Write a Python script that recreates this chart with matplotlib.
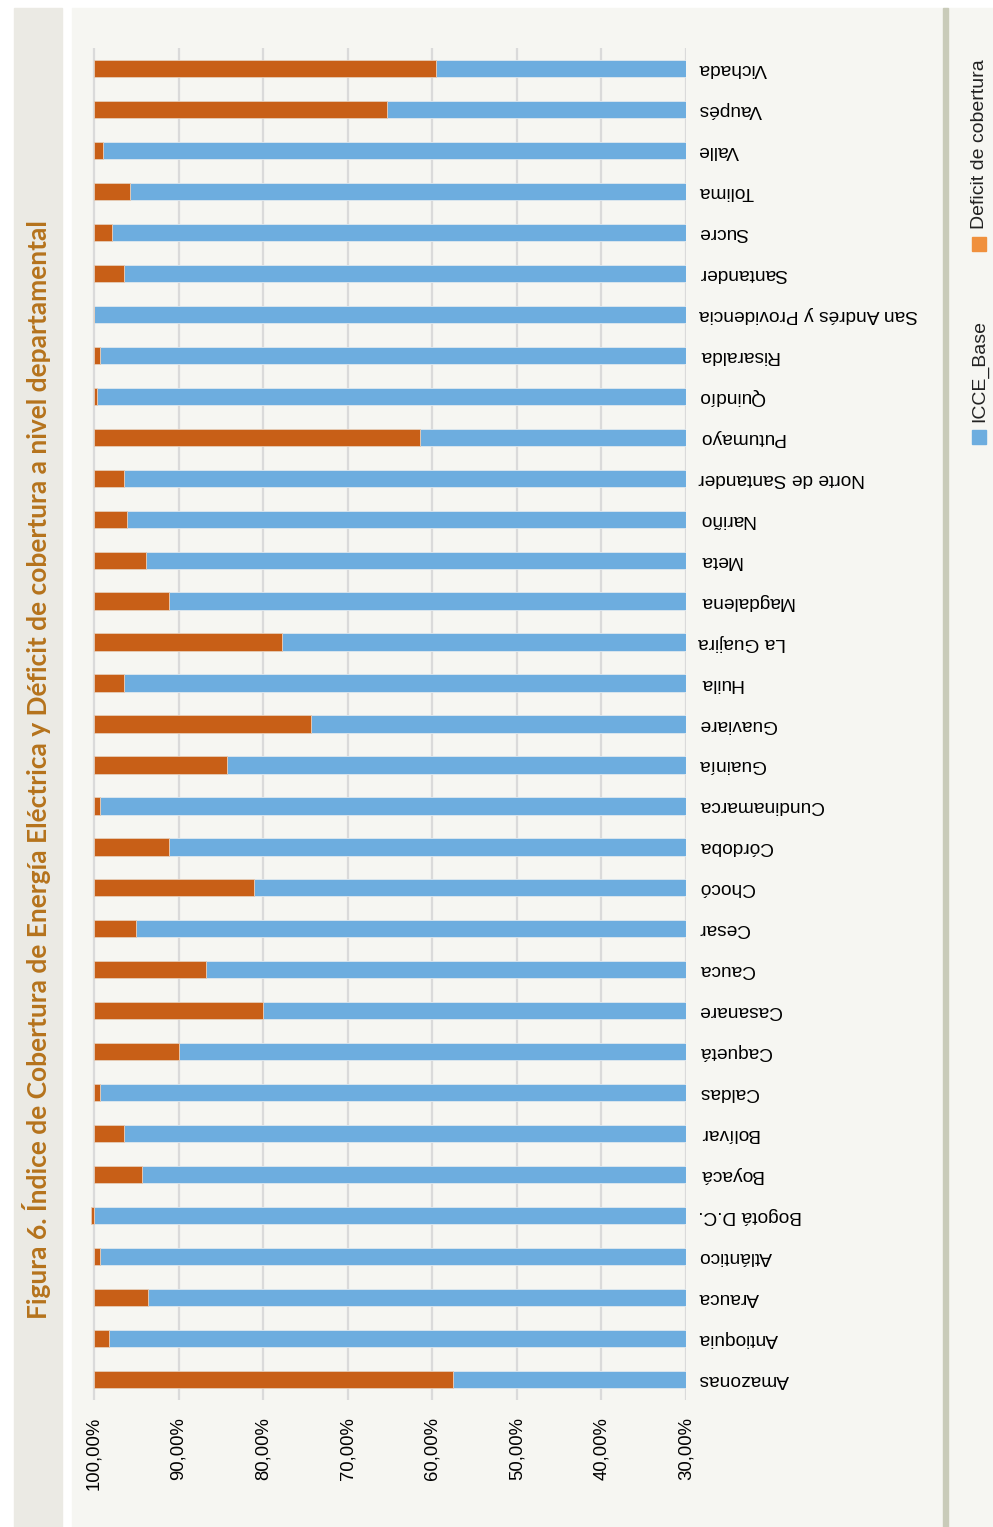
import matplotlib
matplotlib.use("Agg")
import matplotlib.pyplot as plt
from matplotlib.patches import Rectangle

# === DATA ===
departamentos = [
    "Amazonas", "Antioquia", "Arauca", "Atlántico", "Bogotá D.C.", "Boyacá",
    "Bolívar", "Caldas", "Caquetá", "Casanare", "Cauca", "Cesar", "Chocó",
    "Córdoba", "Cundinamarca", "Guainía", "Guaviare", "Huila", "La Guajira",
    "Magdalena", "Meta", "Nariño", "Norte de Santander", "Putumayo", "Quindío",
    "Risaralda", "San Andrés y Providencia", "Santander", "Sucre", "Tolima",
    "Valle", "Vaupés", "Vichada",
]
icce_base = [
    57.5, 98.2, 93.6, 99.3, 100.0, 94.3,
    96.5, 99.3, 90.0, 80.0, 86.8, 95.0, 81.1,
    91.1, 99.3, 84.3, 74.3, 96.5, 77.8,
    91.1, 93.9, 96.1, 96.5, 61.4, 99.6,
    99.3, 100.0, 96.5, 97.9, 95.8,
    98.9, 65.3, 59.6,
]
deficit = [
    42.5, 1.8, 6.4, 0.7, 0.35, 5.7,
    3.5, 0.7, 10.0, 20.0, 13.2, 5.0, 18.9,
    8.9, 0.7, 15.7, 25.7, 3.5, 22.2,
    8.9, 6.1, 3.9, 3.5, 38.6, 0.4,
    0.7, 0.0, 3.5, 2.1, 4.2,
    1.1, 34.7, 40.4,
]
ticks = [30, 40, 50, 60, 70, 80, 90, 100]
titulo = ("Figura 6. Índice de Cobertura de Energía Eléctrica y Déficit "
          "de cobertura a nivel departamental")
series = ["ICCE_Base", "Deficit de cobertura"]

# === STYLE ===
W, H = 993, 1527
BLUE = "#6daddf"
ORANGE = "#c85f17"
LEG_ORANGE = "#f0903d"
PANEL = "#f6f6f2"
STRIP = "#ebeae4"
TITLE_C = "#b5731c"
FONT = "Liberation Sans"


def px(x, y):
    """pixel (top-left origin) -> figure fraction"""
    return x / W, 1 - y / H


def rect(x0, y0, x1, y1, color):
    fx, fy = px(x0, y1)
    fig.patches.append(Rectangle((fx, fy), (x1 - x0) / W, (y1 - y0) / H,
                                 transform=fig.transFigure, color=color,
                                 zorder=-10))


fig = plt.figure(figsize=(W / 100, H / 100), dpi=100)
fig.patch.set_facecolor("white")
rect(14, 8, 62, H, STRIP)
rect(72, 8, W, H, PANEL)
rect(943, 8, 948, H, "#c9cbb9")

# axes: 100% at x=94, 30% at x=686, rows from y=48 to y=1400
x_left = 94 - 8.457
ax = fig.add_axes([x_left / W, (H - 1400) / H, (686 - x_left) / W, 1352 / H])
ax.set_facecolor("none")

pos = list(range(len(departamentos)))
ax.barh(pos, icce_base, height=0.42, color=BLUE, edgecolor="#dfe8ee",
        linewidth=0.6, zorder=2)
ax.barh(pos, deficit, left=icce_base, height=0.42, color=ORANGE,
        edgecolor="#e6cdb8", linewidth=0.6, zorder=2)

ax.set_xlim(101, 30)
ax.set_ylim(-0.5, len(departamentos) - 0.5)
ax.set_axisbelow(True)
ax.xaxis.grid(True, color="#dadada", linewidth=1.6)
for s in ax.spines.values():
    s.set_visible(False)

ax.set_xticks(ticks)
ax.set_xticklabels([f"{t:.2f}".replace(".", ",") + "%" for t in ticks],
                   rotation=90, fontsize=13.3, family=FONT, va="top")
ax.tick_params(axis="x", length=0, pad=12)

ax.yaxis.tick_right()
ax.set_yticks(pos)
ax.set_yticklabels(departamentos, rotation=180, fontsize=13.8, family=FONT,
                   ha="left", va="center")
ax.tick_params(axis="y", length=0, pad=9)

# title along the left strip
fig.text(*px(37, 770), titulo, rotation=90, ha="center", va="center",
         fontsize=19, fontweight="bold", family="Lato", color=TITLE_C)

# legend, rotated
for name, col, y_sq in [(series[0], BLUE, 430), (series[1], LEG_ORANGE, 237)]:
    rect(972, y_sq, 986, y_sq + 14, col)
    fig.text(*px(980, y_sq - 8), name, rotation=90, ha="center", va="bottom",
             fontsize=14, family=FONT, color="#222222")

fig.savefig("out.png", dpi=100)
